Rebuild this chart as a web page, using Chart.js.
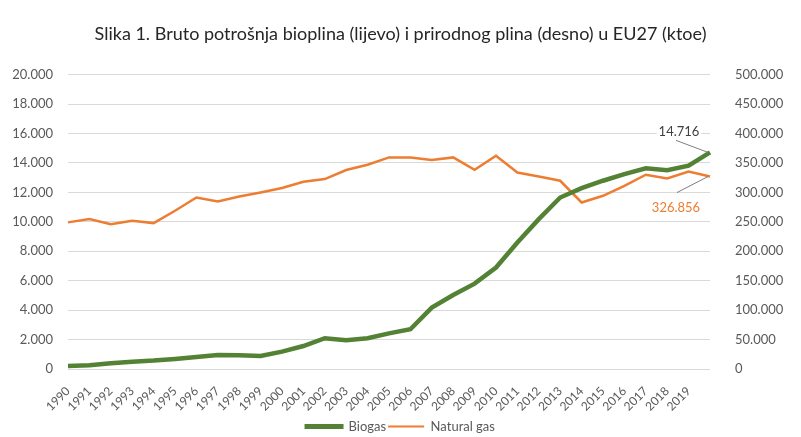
<!DOCTYPE html>
<html lang="hr">
<head>
    <meta charset="UTF-8">
    <title>Bioplin i prirodni plin EU27</title>
    <style>
        body { margin: 0; background: #fff; }
        #wrap { width: 801px; height: 437px; }
    </style>
</head>
<body>
    <div id="wrap"><canvas id="myChart" width="801" height="437"></canvas></div>
<script src="https://cdn.jsdelivr.net/npm/chart.js"></script>
<script>
    // godine (zadnja točka, 2020, nema oznake na osi)
    const years = ['1990','1991','1992','1993','1994','1995','1996','1997','1998','1999',
                   '2000','2001','2002','2003','2004','2005','2006','2007','2008','2009',
                   '2010','2011','2012','2013','2014','2015','2016','2017','2018','2019',''];

    // bioplin, ktoe (lijeva os)
    const biogas = [200, 250, 390, 500, 570, 680, 820, 950, 930, 880,
                    1180, 1560, 2090, 1950, 2090, 2420, 2700, 4170, 5030, 5800,
                    6890, 8590, 10180, 11650, 12290, 12790, 13240, 13630, 13510, 13810,
                    14716];

    // prirodni plin, ktoe (desna os)
    const naturalGas = [249000, 254600, 246000, 251700, 247800, 268700, 291300, 284500, 293000, 299800,
                        307300, 318000, 322600, 337900, 346900, 359400, 359000, 355000, 359400, 338400,
                        362200, 333800, 327000, 319700, 282800, 294200, 311200, 329900, 323600, 335500,
                        326856];

    const leftTicks = { max: 20000, step: 2000 };
    const rightTicks = { max: 500000, step: 50000 };

    const fontFam = 'Lato, "Open Sans", sans-serif';
    const grey = '#595959';

    function fmt(v) {
        return String(Math.round(v)).replace(/\B(?=(\d{3})+(?!\d))/g, '.');
    }

    // oznake zadnjih vrijednosti s linijom vodilicom
    const lastLabels = {
        id: 'lastLabels',
        afterDatasetsDraw(chart) {
            const ctx = chart.ctx;
            const items = [
                { ds: 0, text: fmt(biogas[biogas.length - 1]), color: '#404040', size: 13,
                  tx: -31, ty: -21, lx: -34, ly: -12 },
                { ds: 1, text: fmt(naturalGas[naturalGas.length - 1]), color: '#ED7D31', size: 13,
                  tx: -34, ty: 31, lx: -33, ly: 16 }
            ];
            ctx.save();
            items.forEach(it => {
                const pts = chart.getDatasetMeta(it.ds).data;
                const p = pts[pts.length - 1];
                ctx.strokeStyle = '#7f7f7f';
                ctx.lineWidth = 1;
                ctx.beginPath();
                ctx.moveTo(p.x + it.lx, p.y + it.ly);
                ctx.lineTo(p.x - 2, p.y);
                ctx.stroke();
                ctx.font = it.size + 'px ' + fontFam;
                const w = ctx.measureText(it.text).width;
                ctx.fillStyle = '#fff';
                ctx.fillRect(p.x + it.tx - w / 2 - 2, p.y + it.ty - 7, w + 4, 14);
                ctx.fillStyle = it.color;
                ctx.textAlign = 'center';
                ctx.textBaseline = 'middle';
                ctx.fillText(it.text, p.x + it.tx, p.y + it.ty);
            });
            ctx.restore();
        }
    };

    const data = {
        labels: years,
        datasets: [{
            label: 'Biogas',
            data: biogas,
            yAxisID: 'yL',
            borderColor: '#548235',
            backgroundColor: '#548235',
            borderWidth: 4.5,
            pointRadius: 0,
            tension: 0
        }, {
            label: 'Natural gas',
            data: naturalGas,
            yAxisID: 'yR',
            borderColor: '#ED7D31',
            backgroundColor: '#ED7D31',
            borderWidth: 2.5,
            pointRadius: 0,
            tension: 0
        }]
    };

    const config = {
        type: 'line',
        data: data,
        plugins: [lastLabels],
        options: {
            responsive: false,
            animation: false,
            layout: { padding: { left: 0, right: 0, top: 0, bottom: -6 } },
            plugins: {
                title: {
                    display: true,
                    text: 'Slika 1. Bruto potrošnja bioplina (lijevo) i prirodnog plina (desno) u EU27 (ktoe)',
                    color: '#262626',
                    font: { family: fontFam, size: 18, weight: 'normal' },
                    padding: { top: 23, bottom: 30 }
                },
                legend: {
                    position: 'bottom',
                    labels: {
                        color: grey,
                        font: { family: fontFam, size: 13 },
                        boxWidth: 36,
                        boxHeight: 2,
                        padding: 2,
                        generateLabels(chart) {
                            return chart.data.datasets.map((ds, i) => ({
                                text: ds.label,
                                fillStyle: ds.borderColor,
                                strokeStyle: ds.borderColor,
                                lineWidth: i === 0 ? 3 : 0,
                                fontColor: grey,
                                datasetIndex: i
                            }));
                        }
                    }
                },
                tooltip: { enabled: false }
            },
            scales: {
                x: {
                    grid: { display: false },
                    border: { display: false },
                    ticks: {
                        color: grey,
                        font: { family: fontFam, size: 12 },
                        minRotation: 45,
                        maxRotation: 45,
                        autoSkip: false,
                        padding: 7
                    },
                    afterFit(s) { s.height = 49; }
                },
                yL: {
                    position: 'left',
                    min: 0,
                    max: leftTicks.max,
                    grid: { color: '#d9d9d9', drawTicks: false },
                    border: { display: false },
                    ticks: {
                        stepSize: leftTicks.step,
                        color: grey,
                        font: { family: fontFam, size: 13 },
                        padding: 15,
                        callback: v => fmt(v)
                    },
                    afterFit(s) { s.width = 68; }
                },
                yR: {
                    position: 'right',
                    min: 0,
                    max: rightTicks.max,
                    grid: { display: false, drawTicks: false },
                    border: { display: false },
                    ticks: {
                        stepSize: rightTicks.step,
                        color: grey,
                        font: { family: fontFam, size: 13 },
                        padding: 25,
                        callback: v => fmt(v)
                    },
                    afterFit(s) { s.width = 91; }
                }
            }
        }
    };

    const context = document.getElementById('myChart').getContext('2d');
    const myChart = new Chart(context, config);
</script>
</body>
</html>
